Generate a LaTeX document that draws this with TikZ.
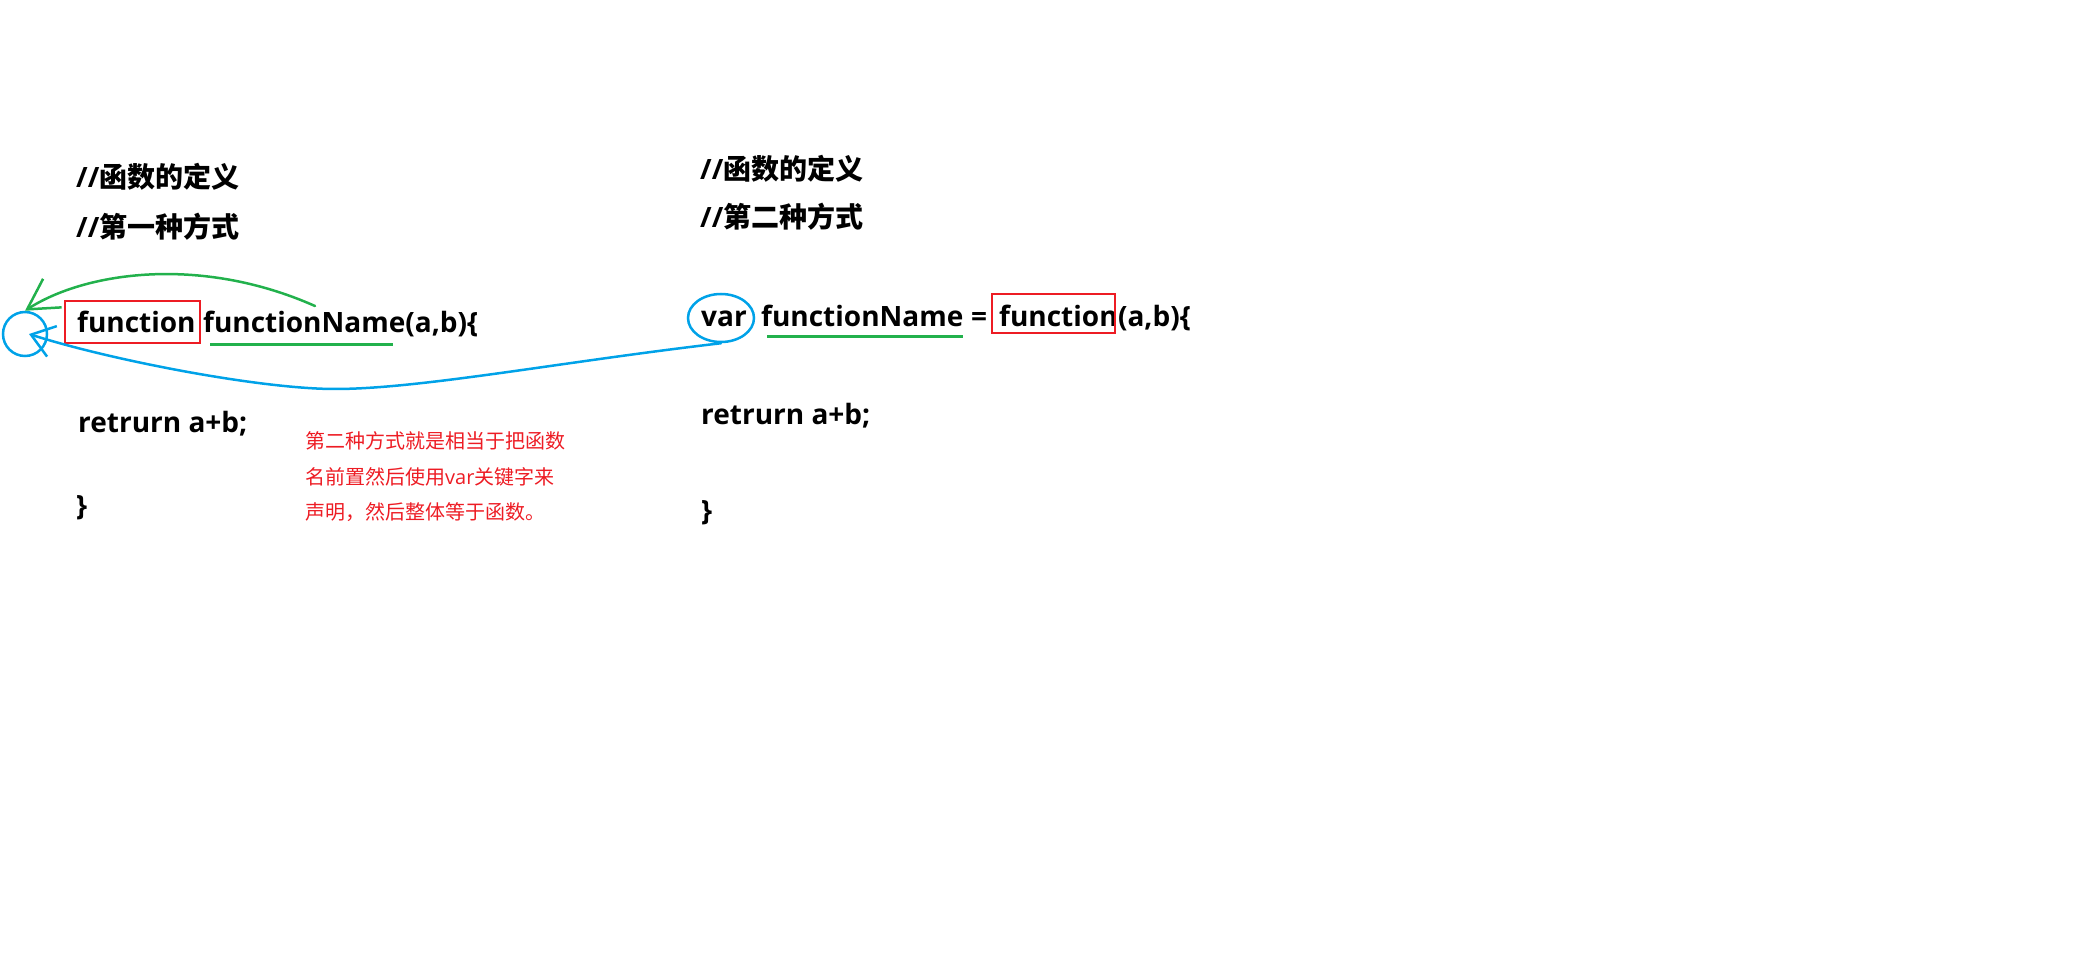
\documentclass[tikz,border=0pt]{standalone}
\usepackage{fontspec}
\setmainfont{Noto Sans CJK SC}
\newfontfamily\codefont{Open Sans}
\usetikzlibrary{arrows.meta,shapes.geometric}

\definecolor{paintred}{RGB}{237,28,36}
\definecolor{paintgreen}{RGB}{34,177,76}
\definecolor{paintblue}{RGB}{0,162,232}

\newcommand{\slashes}{{\codefont //}}

\tikzset{
  heading/.style={anchor=base west, inner sep=0, font=\fontsize{28}{32}\selectfont\bfseries},
  code/.style={anchor=base west, inner sep=0, font=\fontsize{28}{32}\selectfont\codefont\bfseries},
  note/.style={anchor=base west, inner sep=0, text=paintred, font=\fontsize{20}{35}\selectfont},
  redbox/.style={draw=paintred, line width=2.5pt},
  underline/.style={draw=paintgreen, line width=3pt},
  greenarrow/.style={draw=paintgreen, line width=2.5pt, line cap=round, -{Straight Barb[length=30pt,width=34pt]}},
  bluearrow/.style={draw=paintblue, line width=2.5pt, line cap=round, -{Straight Barb[length=22pt,width=32pt]}},
  bluemark/.style={draw=paintblue, line width=2.5pt, circle, minimum size=44pt, inner sep=0},
  blueoval/.style={draw=paintblue, line width=2.5pt, ellipse, minimum width=66pt, minimum height=48pt, inner sep=0}
}

\begin{document}
\begin{tikzpicture}[x=1pt,y=-1pt]
  \useasboundingbox (0,0) rectangle (2089,957);

  % first way
  \node[heading] (def1) at (76,188) {\slashes 函数的定义};
  \node[heading] (way1) at (76,238) {\slashes 第一种方式};
  \node[code] (kw1) at (77,333) {function};
  \node[code] (name1) at (203,333) {functionName(a,b)\{};
  \node[code] (ret1) at (78,432) {retrurn a+b;};
  \node[code] (close1) at (76,515) {\}};
  \draw[redbox] (65,301) rectangle (200,343);
  \draw[underline] (210,345) -- (393,345);

  % second way
  \node[heading] (def2) at (700,180) {\slashes 函数的定义};
  \node[heading] (way2) at (700,228) {\slashes 第二种方式};
  \node[code] (var) at (701,327) {var};
  \node[code] (name2) at (761,327) {functionName};
  \node[code] (eq) at (971,327) {=};
  \node[code] (kw2) at (999,327) {function};
  \node[code] (args2) at (kw2.base east) {(a,b)\{};
  \node[code] (ret2) at (701,425) {retrurn a+b;};
  \node[code] (close2) at (701,520) {\}};
  \draw[redbox] (992,294) rectangle (1115,333);
  \draw[underline] (767,337) -- (963,337);

  % note
  \node[note] (note1) at (305,449) {第二种方式就是相当于把函数};
  \node[note] (note2) at (305,485) {名前置然后使用{\codefont var}关键字来};
  \node[note] (note3) at (305,519) {声明，然后整体等于函数。};

  % marks and arrows
  \node[bluemark] (mark) at (25,334) {};
  \node[blueoval] (varring) at (721,318) {};
  \coordinate (gstart) at (315,306);
  \draw[greenarrow] (gstart) .. controls (200,255) and (85,272) .. (mark.north);
  \draw[bluearrow] (varring.south) .. controls (560,362) and (420,389) .. (335,389)
    .. controls (260,389) and (110,360) .. ([xshift=4pt]mark.center);
\end{tikzpicture}
\end{document}
